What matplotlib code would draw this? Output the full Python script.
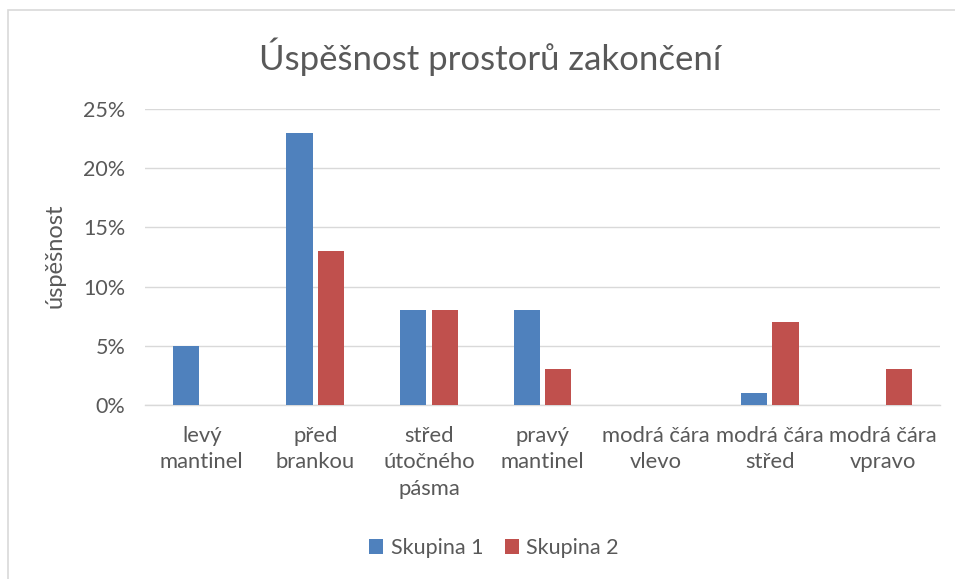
import matplotlib
matplotlib.use("Agg")
import matplotlib.pyplot as plt
from matplotlib.patches import Rectangle
import numpy as np

categories = ["levý\nmantinel", "před\nbrankou", "střed\nútočného\npásma", "pravý\nmantinel",
              "modrá čára\nvlevo", "modrá čára\nstřed", "modrá čára\nvpravo"]
skupina1 = [0.05, 0.23, 0.08, 0.08, 0.0, 0.01, 0.0]
skupina2 = [0.0, 0.13, 0.08, 0.03, 0.0, 0.07, 0.03]
series_names = ["Skupina 1", "Skupina 2"]
yticks = [0, 0.05, 0.10, 0.15, 0.20, 0.25]
ytick_labels = ["0%", "5%", "10%", "15%", "20%", "25%"]

plt.rcParams['font.family'] = ['Lato', 'DejaVu Sans']
txt = '#595959'

fig = plt.figure(figsize=(9.55, 5.79), dpi=100)
W, H = 955, 579
ax = fig.add_axes([145 / W, 1 - 405 / H, (940 - 145) / W, (405 - 109) / H])

x = np.arange(len(categories))
bw = 0.23
off = 0.14
ax.bar(x - off, skupina1, bw, color='#4F81BD', label=series_names[0], zorder=3)
ax.bar(x + off, skupina2, bw, color='#C0504D', label=series_names[1], zorder=3)

ax.set_xlim(-0.5, len(categories) - 0.5)
ax.set_ylim(0, 0.25)
ax.set_yticks(yticks)
ax.set_yticklabels(ytick_labels, fontsize=15.5, color=txt)
ax.set_xticks(x)
ax.set_xticklabels(categories, fontsize=15.8, color=txt, linespacing=1.4)
ax.tick_params(axis='both', length=0)
ax.tick_params(axis='x', pad=15)
ax.tick_params(axis='y', pad=14)
ax.grid(axis='y', color='#D9D9D9', linewidth=1, zorder=0)
for s in ['top', 'right', 'left']:
    ax.spines[s].set_visible(False)
ax.spines['bottom'].set_color('#D9D9D9')
ax.spines['bottom'].set_linewidth(1)

ax.set_ylabel("úspěšnost", fontsize=17, color=txt)
ax.yaxis.set_label_coords((66 - 145) / 795, 0.505)
fig.text(490 / W, 1 - 57 / H, "Úspěšnost prostorů zakončení", fontsize=25, color=txt,
         ha='center', va='center')

leg = fig.legend(loc='center', bbox_to_anchor=(494 / W, 1 - 548 / H), ncol=2, frameon=False,
                 fontsize=15.5, handlelength=0.65, handleheight=0.65, columnspacing=1.0, handletextpad=0.35)
for t in leg.get_texts():
    t.set_color(txt)

fig.patches.append(Rectangle((8 / W, -0.1), 1.2, 1 - 10 / H + 0.1, transform=fig.transFigure,
                             fill=False, edgecolor='#D9D9D9', linewidth=1.2))

fig.savefig("out.png", dpi=100, facecolor='white')
